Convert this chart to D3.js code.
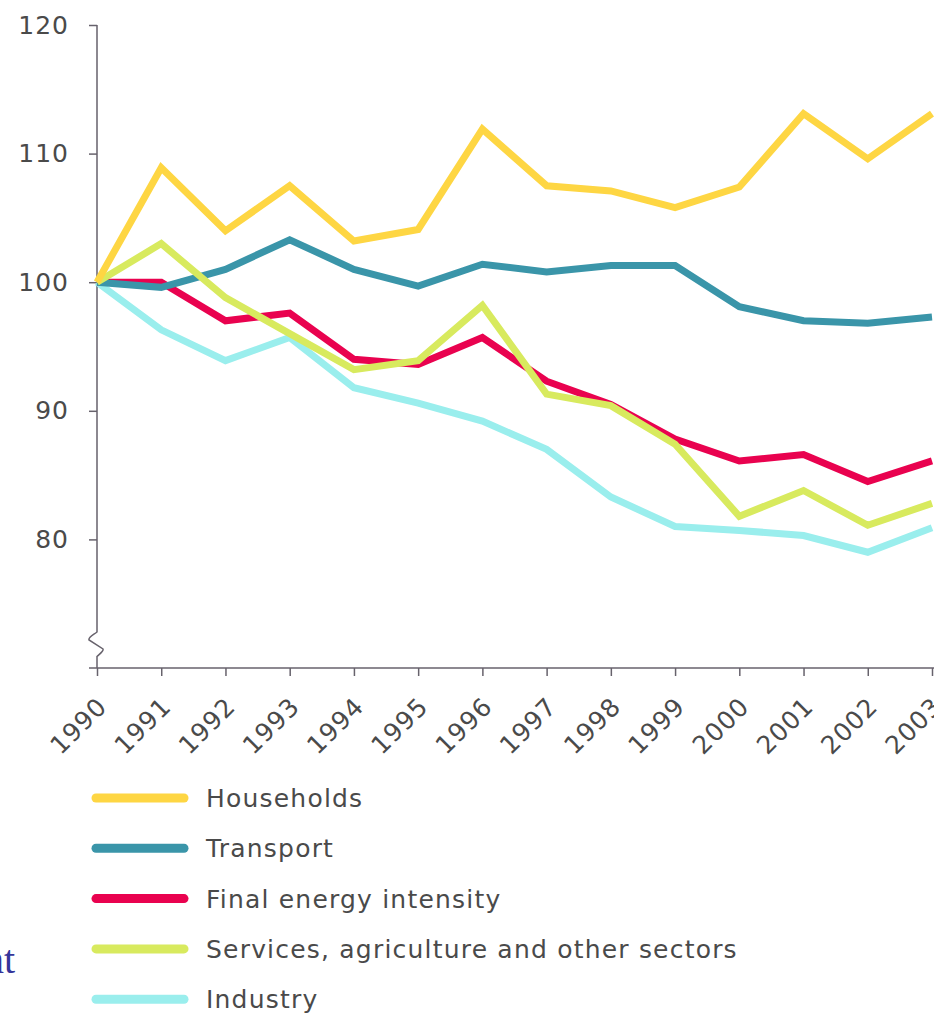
<!DOCTYPE html>
<html>
<head>
<meta charset="utf-8">
<script src="https://cdn.jsdelivr.net/npm/d3@7"></script>
<style>
  body { margin: 0; background: #fff; }
  svg { display: block; }
</style>
</head>
<body>
<div id="chart_id"></div>
<script>
// data (index, 1990 = 100)
var years = [1990, 1991, 1992, 1993, 1994, 1995, 1996, 1997, 1998, 1999, 2000, 2001, 2002, 2003];
var households = [100, 108.9, 104.0, 107.5, 103.2, 104.1, 111.9, 107.5, 107.1, 105.8, 107.4, 113.1, 109.6, 113.1];
var transport = [100, 99.6, 101.0, 103.3, 101.0, 99.7, 101.4, 100.8, 101.3, 101.3, 98.1, 97.0, 96.8, 97.3];
var finalEnergy = [100, 100.0, 97.0, 97.6, 94.0, 93.6, 95.7, 92.3, 90.5, 87.8, 86.1, 86.6, 84.5, 86.1];
var services = [100, 103.0, 98.8, 96.0, 93.2, 93.9, 98.2, 91.3, 90.4, 87.4, 81.8, 83.8, 81.1, 82.8];
var industry = [100, 96.3, 93.9, 95.7, 91.8, 90.6, 89.2, 87.0, 83.3, 81.0, 80.7, 80.3, 79.0, 80.9];
var yTicks = [80, 90, 100, 110, 120];

// series in drawing order (bottom first)
var series = [
  { name: "Industry", values: industry, color: "#9aeeed" },
  { name: "Final energy intensity", values: finalEnergy, color: "#e9024f" },
  { name: "Transport", values: transport, color: "#3a95a9" },
  { name: "Services, agriculture and other sectors", values: services, color: "#d8ea5e" },
  { name: "Households", values: households, color: "#fed643" }
];
// legend order
var legendOrder = ["Households", "Transport", "Final energy intensity", "Services, agriculture and other sectors", "Industry"];

var width = 934, height = 1013;
var axisColor = "#67626c";
var textColor = "#4a4a4a";
var fontFam = "'DejaVu Sans', Verdana, sans-serif";

var svg = d3.select("#chart_id")
  .append("svg")
  .attr("width", width)
  .attr("height", height);

// scales
var x = d3.scaleLinear().domain([1990, 2003]).range([97, 932]);
var y = d3.scaleLinear().domain([70, 120]).range([668, 25]);

// Y axis (ticks + labels only, the line is drawn by hand because of the break)
var yAxis = svg.append("g")
  .attr("transform", "translate(" + x(1990) + ",0)")
  .call(d3.axisLeft(y).tickValues(yTicks).tickSize(8).tickPadding(20).tickFormat(d3.format("d")));
yAxis.select(".domain").remove();
yAxis.selectAll(".tick line").style("stroke", axisColor).style("stroke-width", 1.5);
yAxis.selectAll(".tick text")
  .style("font-family", fontFam)
  .style("font-size", "25px")
  .style("letter-spacing", "1px")
  .style("fill", textColor);

// y axis line with the break mark near the bottom
var x0 = x(1990);
var bTop = y(72.8), bBot = y(70.9);
svg.append("path")
  .attr("d",
    "M" + x0 + "," + y(120) +
    " L" + x0 + "," + bTop +
    " C" + (x0 - 4) + "," + (bTop + 3) + " " + (x0 - 9) + "," + (bTop + 5) + " " + (x0 - 8) + "," + (bTop + 8) +
    " L" + (x0 + 6) + "," + (bTop + 17) +
    " C" + (x0 + 7) + "," + (bTop + 19) + " " + (x0 + 2) + "," + (bBot - 2) + " " + x0 + "," + bBot +
    " L" + x0 + "," + y(70))
  .style("fill", "none")
  .style("stroke", axisColor)
  .style("stroke-width", 1.5);

// X axis
var xAxis = svg.append("g")
  .attr("transform", "translate(0," + y(70) + ")")
  .call(d3.axisBottom(x).tickValues(years).tickSize(8).tickFormat(d3.format("d")));
xAxis.select(".domain").remove();
xAxis.selectAll(".tick line").style("stroke", axisColor).style("stroke-width", 1.5);
xAxis.selectAll(".tick text")
  .attr("y", 0)
  .attr("dy", 0)
  .attr("transform", "translate(11,40)rotate(-45)")
  .style("text-anchor", "end")
  .style("font-family", fontFam)
  .style("font-size", "25px")
  .style("letter-spacing", "1px")
  .style("fill", textColor);

svg.append("line")
  .attr("x1", x(1990) - 8)
  .attr("x2", width)
  .attr("y1", y(70))
  .attr("y2", y(70))
  .style("stroke", axisColor)
  .style("stroke-width", 1.5);

// lines
var line = d3.line()
  .x(function (d, i) { return x(years[i]); })
  .y(function (d) { return y(d); });

svg.selectAll(".series")
  .data(series)
  .enter()
  .append("path")
  .attr("class", "series")
  .attr("d", function (d) { return line(d.values); })
  .style("fill", "none")
  .style("stroke", function (d) { return d.color; })
  .style("stroke-width", 7)
  .style("stroke-linejoin", "miter");

// legend
var legend = svg.selectAll(".legend")
  .data(legendOrder)
  .enter()
  .append("g")
  .attr("class", "legend")
  .attr("transform", function (d, i) { return "translate(0," + (798 + i * 50.3) + ")"; });

legend.append("line")
  .attr("x1", 96)
  .attr("x2", 184)
  .attr("y1", 0)
  .attr("y2", 0)
  .style("stroke", function (d) {
    return series.filter(function (s) { return s.name === d; })[0].color;
  })
  .style("stroke-width", 9)
  .style("stroke-linecap", "round");

legend.append("text")
  .attr("x", 206)
  .attr("y", 0)
  .attr("dy", "0.36em")
  .style("font-family", fontFam)
  .style("font-size", "25px")
  .style("letter-spacing", "1.2px")
  .style("fill", textColor)
  .text(function (d) { return d; });

// leftover text fragment at the left edge
svg.append("text")
  .attr("x", 15)
  .attr("y", 973)
  .style("text-anchor", "end")
  .style("font-family", "'Liberation Serif', 'Times New Roman', serif")
  .style("font-size", "40px")
  .style("fill", "#35359a")
  .text("nt");
</script>
</body>
</html>
